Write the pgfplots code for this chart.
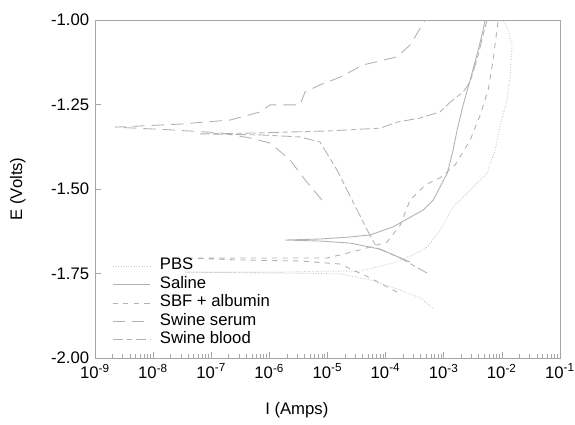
\documentclass[border=0pt]{standalone}
\usepackage{pgfplots}
\pgfplotsset{compat=1.18}
\usepackage{fontspec}
\setmainfont{Liberation Sans}
\begin{document}
\fontsize{9.5}{11}\selectfont
\begin{tikzpicture}
\begin{axis}[
  scale only axis, width=9.3cm, height=6.76cm,
  xmode=log, xmin=1e-9, xmax=1e-1, ymin=-2, ymax=-1,
  xtick={1e-9,1e-8,1e-7,1e-6,1e-5,1e-4,1e-3,1e-2,1e-1},
  xticklabels={10\textsuperscript{-9},10\textsuperscript{-8},10\textsuperscript{-7},10\textsuperscript{-6},10\textsuperscript{-5},10\textsuperscript{-4},10\textsuperscript{-3},10\textsuperscript{-2},10\textsuperscript{-1}},
  ytick={-2,-1.75,-1.5,-1.25,-1},
  yticklabels={-2.00,-1.75,-1.50,-1.25,-1.00},
  xtick pos=bottom, ytick pos=left,
  major tick length=0.12cm, minor tick length=0.07cm,
  axis line style={gray!70}, every tick/.style={gray!70},
  tick label style={font=\fontsize{9.5}{11}\selectfont},
  xlabel={I (Amps)}, ylabel={E (Volts)},
  label style={font=\fontsize{9.5}{11}\selectfont},
  xlabel style={at={(axis description cs:0.434,-0.154)}, anchor=center},
  ylabel style={at={(axis description cs:-0.166,0.5)}, anchor=center},
  legend style={draw=none, fill=none, at={(0.025,0.31)}, anchor=north west,
    font=\fontsize{9.5}{11}\selectfont, cells={anchor=west},
    nodes={inner sep=1pt, text height=6.3pt, text depth=2pt}, row sep=0.2pt},
  legend image code/.code={\draw[#1] (0cm,0cm) -- (0.74cm,0cm); \path (0.9cm,0cm);},
  every axis plot/.append style={line width=0.5pt},
]
% PBS
\addplot[gray!45, densely dotted] coordinates {
  (6.58e-4,-1.852)(3.93e-4,-1.822)(1.78e-4,-1.799)(5.41e-5,-1.769)(1.65e-5,-1.751)
  (1.53e-6,-1.749)(3.54e-8,-1.746)(1.53e-6,-1.746)(1.11e-5,-1.743)(3.64e-5,-1.743)
  (1.35e-4,-1.719)(2.97e-4,-1.695)(5.18e-4,-1.672)(8.67e-4,-1.621)(1.45e-3,-1.553)
  (2.85e-3,-1.503)(5.58e-3,-1.453)(7.67e-3,-1.385)(9.35e-3,-1.311)(1.23e-2,-1.237)
  (1.39e-2,-1.163)(1.50e-2,-1.074)(1.28e-2,-1.030)(1.05e-2,-1.000)};
\addlegendentry{PBS}
% Saline
\addplot[gray!60] coordinates {
  (2.64e-4,-1.716)(8.03e-5,-1.678)(2.45e-5,-1.660)(7.46e-6,-1.654)(1.86e-6,-1.651)
  (7.46e-6,-1.648)(2.45e-5,-1.642)(5.41e-5,-1.636)(1.35e-4,-1.612)(4.43e-4,-1.562)
  (6.58e-4,-1.533)(1.15e-3,-1.453)(1.45e-3,-1.385)(1.70e-3,-1.325)(2.16e-3,-1.251)
  (2.85e-3,-1.178)(3.91e-3,-1.089)(4.76e-3,-1.030)(5.16e-3,-1.000)};
\addlegendentry{Saline}
% SBF + albumin
\addplot[gray!60, dash pattern=on 3pt off 3pt] coordinates {
  (1.58e-4,-1.805)(5.41e-5,-1.763)(1.65e-5,-1.722)(3.37e-6,-1.713)(3.13e-7,-1.710)
  (3.54e-8,-1.704)(3.13e-7,-1.704)(9.84e-6,-1.704)(1.65e-5,-1.695)(3.64e-5,-1.680)
  (1.06e-4,-1.657)(1.78e-4,-1.607)(2.64e-4,-1.533)(4.79e-4,-1.488)(8.67e-4,-1.467)
  (1.57e-3,-1.429)(2.85e-3,-1.355)(4.24e-3,-1.281)(5.81e-3,-1.207)(7.08e-3,-1.118)
  (8.30e-3,-1.024)(8.63e-3,-1.000)};
\addlegendentry{SBF + albumin}
% Swine serum
\addplot[gray!60, dash pattern=on 7pt off 4pt] coordinates {
  (8.07e-6,-1.533)(4.11e-6,-1.473)(2.27e-6,-1.414)(1.03e-6,-1.364)(4.66e-7,-1.349)
  (1.42e-7,-1.334)(1.95e-8,-1.325)(2.21e-9,-1.317)(2.90e-8,-1.308)(2.11e-7,-1.296)
  (6.92e-7,-1.272)(1.03e-6,-1.251)(3.37e-6,-1.251)(4.11e-6,-1.213)(7.46e-6,-1.192)
  (1.65e-5,-1.169)(4.10e-5,-1.133)(1.58e-4,-1.109)(2.64e-4,-1.074)(4.25e-4,-1.015)
  (4.79e-4,-1.000)};
\addlegendentry{Swine serum}
% Swine blood
\addplot[gray!60, dash pattern=on 6pt off 2pt on 3pt off 2pt] coordinates {
  (5.18e-4,-1.749)(1.78e-4,-1.704)(7.15e-5,-1.675)(4.81e-5,-1.621)(3.23e-5,-1.562)
  (2.17e-5,-1.503)(1.46e-5,-1.444)(7.46e-6,-1.361)(3.37e-6,-1.346)(6.92e-7,-1.340)
  (6.41e-8,-1.337)(6.92e-7,-1.334)(1.11e-5,-1.328)(8.03e-5,-1.320)(1.58e-4,-1.302)
  (3.93e-4,-1.290)(8.67e-4,-1.272)(1.29e-3,-1.243)(2.16e-3,-1.213)(2.85e-3,-1.183)
  (3.91e-3,-1.104)(4.76e-3,-1.044)(5.58e-3,-1.000)};
\addlegendentry{Swine blood}
\end{axis}
\pgfresetboundingbox
\path ([xshift=-1.9cm,yshift=-1.34cm]current axis.south west) rectangle ++(11.5cm,8.5cm);
\end{tikzpicture}
\end{document}
